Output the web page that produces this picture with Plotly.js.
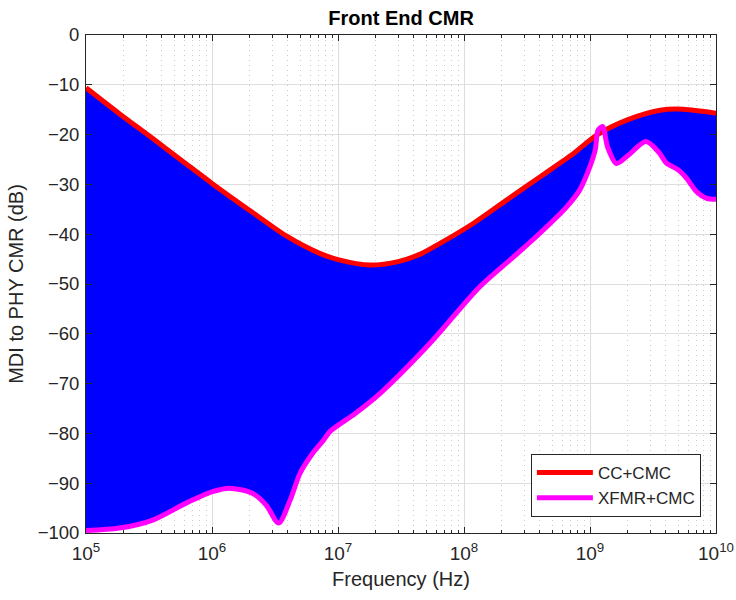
<!DOCTYPE html>
<html>
<head>
<meta charset="utf-8">
<script src="https://cdn.plot.ly/plotly-3.0.1.min.js"></script>
<style>html,body{margin:0;padding:0;background:#fff;}#chart{width:736px;height:600px;}</style>
</head>
<body>
<div id="chart"></div>
<script>
// CC+CMC curve (frequency in Hz, CMR in dB)
const ccFreq = [1e5, 1.84e5, 3.39e5, 6.17e5, 1.0e6, 2.09e6, 3.86e6, 7.08e6, 1.0e7, 1.8e7, 3.0e7, 4.5e7, 6.5e7, 1.19e8, 2.19e8, 4.0e8, 7.4e8, 1.13e9, 2.0e9, 3.6e9, 5.5e9, 1e10];
const ccCMR  = [-10.6, -15.8, -20.8, -25.8, -29.8, -35.6, -40.3, -43.8, -45.1, -46.2, -45.5, -44.0, -41.8, -37.8, -33.1, -28.5, -23.8, -20.1, -17.0, -15.1, -14.9, -15.7];

// XFMR+CMC curve
const xfFreq = [1e5, 1.84e5, 3.39e5, 6.22e5, 1.01e6, 1.37e6, 2.09e6, 2.69e6, 3.38e6, 4.17e6, 5.0e6, 6.3e6, 7.6e6, 8.65e6, 1.37e7, 2.15e7, 5.37e7, 1.34e8, 2.62e8, 4.0e8, 6.53e8, 8.3e8, 1.0e9, 1.1e9, 1.16e9, 1.26e9, 1.38e9, 1.62e9, 2.0e9, 2.78e9, 3.5e9, 4.07e9, 4.73e9, 5.18e9, 5.85e9, 7.03e9, 8.43e9, 1e10];
const xfCMR  = [-99.5, -99.0, -97.4, -94.0, -91.7, -91.0, -92.0, -94.4, -98.0, -93.4, -88.0, -84.0, -81.5, -79.6, -76.0, -72.0, -61.9, -50.5, -44.0, -39.8, -34.5, -31.1, -26.4, -23.1, -19.1, -18.4, -22.5, -25.8, -24.2, -21.4, -23.5, -25.8, -26.7, -27.4, -28.8, -31.5, -32.8, -33.0];

const xTickVals = [1e5, 1e6, 1e7, 1e8, 1e9, 1e10];
const xTickText = ['10<sup>5</sup>', '10<sup>6</sup>', '10<sup>7</sup>', '10<sup>8</sup>', '10<sup>9</sup>', '10<sup>10</sup>'];

const seriesNames = ['CC+CMC', 'XFMR+CMC'];
const titleText = 'Front End CMR';
const xTitle = 'Frequency (Hz)';
const yTitle = 'MDI to PHY CMR (dB)';

// minor log grid positions (2..9 within each decade)
const minorVals = [];
for (let i = 0; i < xTickVals.length - 1; i++) {
  for (let m = 2; m <= 9; m++) minorVals.push(m * xTickVals[i]);
}

const txt = '#262626';
const font = 'Liberation Sans, Arial, Helvetica, sans-serif';

const traces = [
  {
    x: ccFreq, y: ccCMR, name: seriesNames[0], type: 'scatter', mode: 'lines',
    line: {color: '#ff0000', width: 5, shape: 'spline', smoothing: 0.8}
  },
  {
    // blue band between the two curves (no legend entry)
    x: xfFreq, y: xfCMR, name: 'band', type: 'scatter', mode: 'lines', showlegend: false,
    line: {color: 'rgba(0,0,0,0)', width: 0, shape: 'spline', smoothing: 0.8},
    fill: 'tonexty', fillcolor: '#0000ff'
  },
  {
    x: xfFreq, y: xfCMR, name: seriesNames[1], type: 'scatter', mode: 'lines',
    line: {color: '#ff00ff', width: 5, shape: 'spline', smoothing: 0.8}
  }
];

const layout = {
  width: 736, height: 600,
  margin: {l: 86, r: 20, t: 35, b: 67},
  paper_bgcolor: '#ffffff', plot_bgcolor: '#ffffff',
  font: {family: font, color: txt, size: 18},
  title: {text: '<b>' + titleText + '</b>', x: 0.545, xanchor: 'center', y: 0.97, yanchor: 'middle', font: {size: 20, color: '#000000', family: font}},
  showlegend: true,
  legend: {
    x: 0.976, xanchor: 'right', y: 0.032, yanchor: 'bottom',
    traceorder: 'normal',
    bgcolor: '#ffffff', bordercolor: '#262626', borderwidth: 1,
    font: {size: 17, color: txt, family: font},
    itemwidth: 56, tracegroupgap: 0
  },
  xaxis: {
    type: 'log', range: [5, 10],
    tickmode: 'array', tickvals: xTickVals, ticktext: xTickText,
    showline: true, linecolor: txt, linewidth: 1, mirror: 'ticks',
    ticks: 'inside', ticklen: 6, tickcolor: txt,
    showgrid: true, gridcolor: '#dedede', gridwidth: 1,
    zeroline: false,
    ticklabelstandoff: 3,
    tickfont: {size: 19, color: txt, family: font},
    minor: {tickmode: 'array', tickvals: minorVals, ticks: 'inside', ticklen: 3, tickcolor: txt, showgrid: true, gridcolor: '#cbcbcb', griddash: '1px,4px', gridwidth: 1},
    title: {text: xTitle, font: {size: 20, color: txt, family: font}, standoff: 9}
  },
  yaxis: {
    range: [-100, 0], dtick: 10,
    showline: true, linecolor: txt, linewidth: 1, mirror: 'ticks',
    ticks: 'inside', ticklen: 6, tickcolor: txt,
    showgrid: true, gridcolor: '#dedede', gridwidth: 1,
    zeroline: false,
    ticklabelstandoff: 2,
    tickfont: {size: 18.5, color: txt, family: font},
    title: {text: yTitle, font: {size: 20, color: txt, family: font}, standoff: 8}
  }
};

Plotly.newPlot('chart', traces, layout, {displayModeBar: false, staticPlot: true});
</script>
</body>
</html>
